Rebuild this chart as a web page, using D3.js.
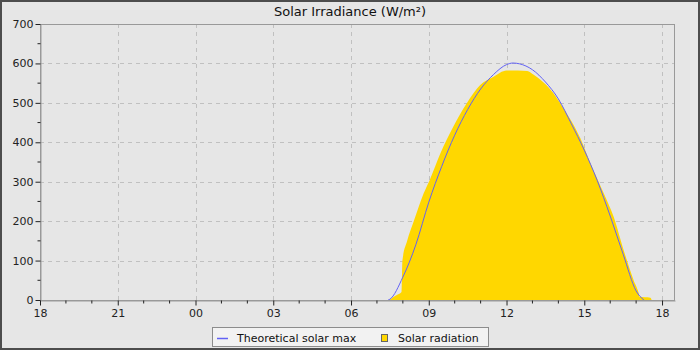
<!DOCTYPE html>
<html><head><meta charset="utf-8">
<script src="https://cdn.jsdelivr.net/npm/d3@7"></script>
<style>
html,body{margin:0;padding:0;background:#e6e6e6;}
svg{display:block;font-family:"DejaVu Sans",sans-serif;}
</style></head>
<body>
<svg id="chart" width="700" height="350"></svg>
<script>
const title = "Solar Irradiance (W/m²)";
const seriesNames = ["Theoretical solar max", "Solar radiation"];
const yTicks = [0,100,200,300,400,500,600,700];
const xStart = "2024-01-01 18:00", xEnd = "2024-01-02 18:30";
const theoTimes = ["07:26","07:30","08:00","08:30","09:00","09:30","10:00","10:30","11:00","11:30","12:00","12:15","12:30","13:00","13:30","14:00","14:30","15:00","15:30","16:00","16:30","17:00","17:18"];
const theoValues = [0,2,58,140,248,339,418,483,535,572,597,601,599,584,553,510,447,380,303,213,116,23,0];
const solarTimes = ["07:29","07:35","07:45","07:57","07:59","08:10","08:25","08:48","09:02","09:27","09:57","10:28","10:59","11:30","12:00","12:48","13:03","13:42","14:12","14:51","15:14","15:45","16:08","16:31","16:54","17:06","17:08","17:33","17:36"];
const solarValues = [0,5,12,20,100,150,199,270,304,372,440,499,545,566,582,581,571,533,486,410,347,271,211,127,51,17,8,6,0];

const parse = d3.timeParse("%Y-%m-%d %H:%M");
const day = "2024-01-02 ";
const theo = theoTimes.map((t,i)=>({t:parse(day+t), v:theoValues[i]}));
const solar = solarTimes.map((t,i)=>({t:parse(day+t), v:solarValues[i]}));

const svg = d3.select("#chart");
const W=700,H=350;
const L=40,R=675,T=24,B=300;

svg.append("rect").attr("x",1).attr("y",1).attr("width",W-2).attr("height",H-2)
  .attr("fill","#e6e6e6").attr("stroke","#4d4d4d").attr("stroke-width",2);

const x = d3.scaleTime().domain([parse(xStart), parse(xEnd)]).range([L,R]);
const y = d3.scaleLinear().domain([0,700]).range([B,T]);

const g = svg.append("g");
// grid
const majorX = d3.timeHour.every(3).range(parse(xStart), d3.timeMinute.offset(parse(xEnd),1));
g.append("g").selectAll("line").data(majorX.slice(1)).join("line")
  .attr("x1",d=>Math.round(x(d))+0.5).attr("x2",d=>Math.round(x(d))+0.5).attr("y1",T).attr("y2",B)
  .attr("stroke","#c0c0c0").attr("stroke-dasharray","4,4");
g.append("g").selectAll("line").data(yTicks.slice(1)).join("line")
  .attr("y1",d=>Math.round(y(d))+0.5).attr("y2",d=>Math.round(y(d))+0.5).attr("x1",L).attr("x2",R)
  .attr("stroke","#c0c0c0").attr("stroke-dasharray","4,4");

// area
const area = d3.area().x(d=>x(d.t)).y0(y(0)).y1(d=>y(d.v)).curve(d3.curveMonotoneX);
g.append("path").datum(solar).attr("d",area).attr("fill","#ffd700");
const line = d3.line().x(d=>x(d.t)).y(d=>y(d.v)).curve(d3.curveMonotoneX);
g.append("path").datum(theo).attr("d",line).attr("fill","none").attr("stroke","#6262f5").attr("stroke-width",1);

// frame
g.append("rect").attr("x",L+0.5).attr("y",T+0.5).attr("width",R-L-1).attr("height",B-T)
  .attr("fill","none").attr("stroke","#999");

// axes
const xAxis = d3.axisBottom(x).tickValues(majorX).tickFormat(d3.timeFormat("%H")).tickSize(5).tickSizeOuter(0);
const xa = svg.append("g").attr("transform",`translate(0,${B+0.5})`).call(xAxis);
const minorX = d3.timeHour.every(1).range(parse(xStart), d3.timeMinute.offset(parse(xEnd),1)).filter(d=>d.getHours()%3!==0);
xa.append("g").selectAll("line").data(minorX).join("line")
  .attr("x1",d=>x(d)).attr("x2",d=>x(d)).attr("y1",0).attr("y2",3).attr("stroke","#222");
const yAxis = d3.axisLeft(y).tickValues(yTicks).tickSize(5).tickSizeOuter(0);
const ya = svg.append("g").attr("transform",`translate(${L+0.5},0)`).call(yAxis);
ya.append("g").selectAll("line").data(d3.range(50,700,100)).join("line")
  .attr("y1",d=>y(d)).attr("y2",d=>y(d)).attr("x1",0).attr("x2",-3).attr("stroke","#222");
[xa,ya].forEach(a=>{
  a.select(".domain").attr("stroke","#999");
  a.selectAll(".tick line").attr("stroke","#222");
  a.selectAll("text").attr("font-family","DejaVu Sans").attr("font-size",11).attr("fill","#222");
});
xa.selectAll(".tick text").attr("dy","0.85em").attr("y",7);
ya.selectAll(".tick text").attr("x",-7);

// title
svg.append("text").attr("x",350).attr("y",16).attr("text-anchor","middle")
  .attr("font-size",13).attr("fill","#111").text(title);

// legend
const lg = svg.append("g");
lg.append("rect").attr("x",212.5).attr("y",327.5).attr("width",276).attr("height",19)
  .attr("fill","#f2f2f2").attr("stroke","#8c8c8c");
lg.append("line").attr("x1",217).attr("x2",228).attr("y1",338.5).attr("y2",338.5).attr("stroke","#6262f5").attr("stroke-width",1.5);
lg.append("text").attr("x",237).attr("y",341.5).attr("font-size",11).attr("fill","#111").text(seriesNames[0]);
lg.append("rect").attr("x",381.5).attr("y",334.5).attr("width",6).attr("height",7).attr("fill","#ffd700").attr("stroke","#666");
lg.append("text").attr("x",398).attr("y",341.5).attr("font-size",11).attr("fill","#111").text(seriesNames[1]);
</script>
</body></html>
